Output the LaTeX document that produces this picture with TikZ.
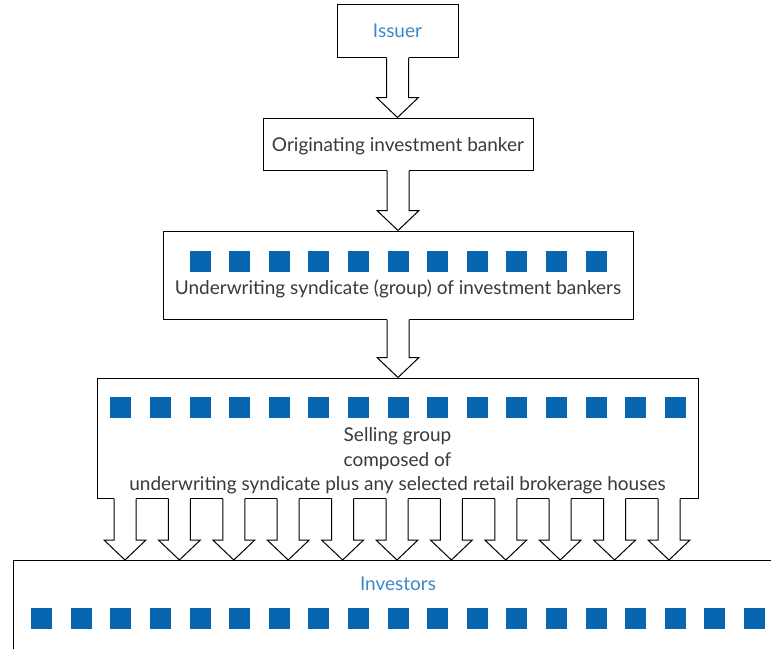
\documentclass[tikz,border=0pt]{standalone}
\usepackage{fontspec}
\setmainfont{Lato}
\usetikzlibrary{calc,positioning}
\definecolor{inkgray}{HTML}{3A3A3A}
\definecolor{titleblue}{HTML}{3D88C8}
\definecolor{squareblue}{HTML}{0866B0}
\tikzset{
  box/.style={draw=black, line width=1pt, fill=white, inner sep=0pt},
  dot/.style={fill=squareblue},
  shaft/.style={draw=black, line width=1pt}
}
\newcommand{\blockarrow}[2]{%
  \fill[white] let \p1=(#1), \p2=(#2) in
    (\x1-11pt,\y1+1pt) -- (\x1-11pt,\y2+20pt) -- (\x1-21pt,\y2+20pt) -- (\x1,\y2)
    -- (\x1+21pt,\y2+20pt) -- (\x1+11pt,\y2+20pt) -- (\x1+11pt,\y1+1pt) -- cycle;
  \draw[shaft] let \p1=(#1), \p2=(#2) in
    (\x1-11pt,\y1) -- (\x1-11pt,\y2+20pt) -- (\x1-21pt,\y2+20pt) -- (\x1,\y2)
    -- (\x1+21pt,\y2+20pt) -- (\x1+11pt,\y2+20pt) -- (\x1+11pt,\y1);
}

\begin{document}
\begin{tikzpicture}[x=1pt, y=-1pt, font=\fontsize{19}{24.5}\selectfont, text=inkgray]
    \useasboundingbox (0,0) rectangle (771,648);
    \clip (0,0) rectangle (771,648);
    %% boxes
    \node[box, minimum width=121pt, minimum height=53pt, text=titleblue] (issuer) at (397.5,31) {Issuer};
    \node[box, minimum width=270pt, minimum height=52pt] (orig) at (398,144) {};
    \node[box, minimum width=470pt, minimum height=88pt] (under) at (398,275) {};
    \node[box, minimum width=601pt, minimum height=120pt] (sell) at (397.5,438) {};
    \node[box, anchor=north west, minimum width=800pt, minimum height=120pt] (inv) at (13,560) {};
    %% contents
    \node (origtext) at ($(orig.center)+(0,2)$) {Originating investment banker};
    \foreach \i in {0,...,10}
      \fill[dot] ($(under.center)+(\i*39.6-208.5,-24)$) rectangle +(21,21);
    \node (undertext) at ($(under.center)+(0,14)$) {Underwriting syndicate (group) of investment bankers};
    \foreach \i in {0,...,14}
      \fill[dot] ($(sell.center)+(\i*39.6-287.2,-41)$) rectangle +(21,21);
    \node[align=center] (selltext) at ($(sell.center)+(0,23)$)
      {Selling group\\composed of\\underwriting syndicate plus any selected retail brokerage houses};
    \node[text=titleblue] (invtext) at (398,584) {Investors};
    \foreach \i in {0,...,18}
      \fill[dot] ($(inv.north west)+(18.1+\i*39.6,48)$) rectangle +(21,21);
    %% arrows
    \blockarrow{issuer.south}{issuer.south |- orig.north}
    \blockarrow{orig.south}{orig.south |- under.north}
    \blockarrow{under.south}{under.south |- sell.north}
    \foreach \i in {0,...,10} {
      \blockarrow{$(sell.south)+(\i*54.4-272.5,0)$}{$(sell.south |- inv.north)+(\i*54.4-272.5,0)$}
    }
\end{tikzpicture}
\end{document}
